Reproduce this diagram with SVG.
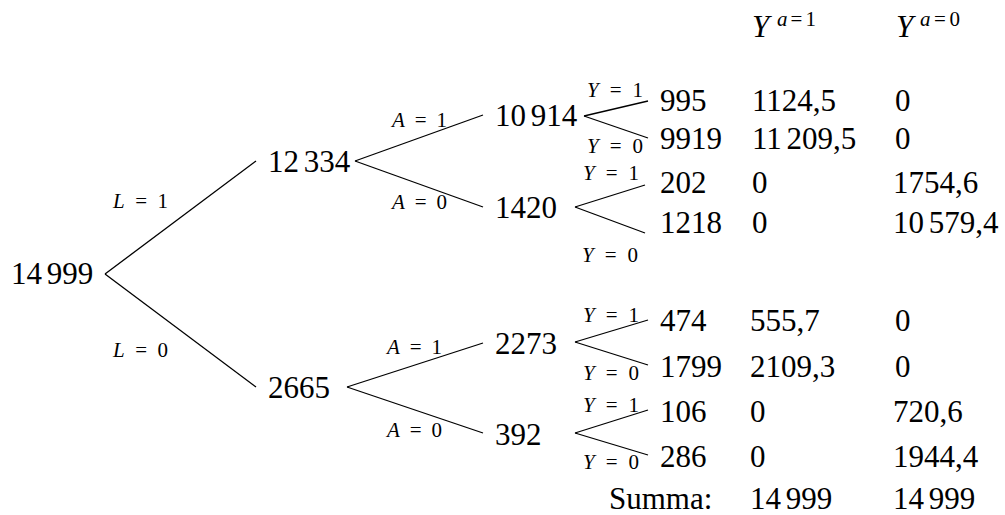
<svg xmlns="http://www.w3.org/2000/svg" width="1005" height="515" viewBox="0 0 1005 515">
<style>
text{fill:#000;font-family:"Liberation Serif","Times New Roman",serif}
.n{font-size:31px;word-spacing:-3px}
.l{font-size:21px}
.s{font-size:21px}
.i{font-style:italic}
.e line{stroke:#000;stroke-width:1.3;fill:none}
</style>
<rect width="1005" height="515" fill="#fff"/>
<g id="connectors" class="e">
<line x1="105" y1="274" x2="256" y2="161"/>
<line x1="105" y1="274" x2="256" y2="387"/>
<line x1="355" y1="161" x2="483" y2="115"/>
<line x1="355" y1="161" x2="483" y2="207"/>
<line x1="347" y1="387" x2="483" y2="343"/>
<line x1="347" y1="387" x2="483" y2="433"/>
<line x1="584" y1="116" x2="648" y2="101"/>
<line x1="584" y1="116" x2="648" y2="138"/>
<line x1="575" y1="207" x2="645" y2="185"/>
<line x1="575" y1="207" x2="645" y2="233"/>
<line x1="575" y1="342" x2="648" y2="320"/>
<line x1="575" y1="342" x2="648" y2="365"/>
<line x1="575" y1="433" x2="648" y2="410"/>
<line x1="575" y1="433" x2="648" y2="455"/>
</g>
<g id="edge-labels">
<text class="l" x="113" y="208" textLength="55"><tspan class="i">L</tspan> = 1</text>
<text class="l" x="113" y="357" textLength="55"><tspan class="i">L</tspan> = 0</text>
<text class="l" x="392" y="127" textLength="55"><tspan class="i">A</tspan> = 1</text>
<text class="l" x="392" y="209" textLength="55"><tspan class="i">A</tspan> = 0</text>
<text class="l" x="387" y="354" textLength="55"><tspan class="i">A</tspan> = 1</text>
<text class="l" x="387" y="437" textLength="55"><tspan class="i">A</tspan> = 0</text>
<text class="l" x="587" y="97" textLength="56"><tspan class="i">Y</tspan> = 1</text>
<text class="l" x="587" y="153" textLength="56"><tspan class="i">Y</tspan> = 0</text>
<text class="l" x="583" y="180" textLength="56"><tspan class="i">Y</tspan> = 1</text>
<text class="l" x="582" y="262" textLength="56"><tspan class="i">Y</tspan> = 0</text>
<text class="l" x="583" y="322" textLength="56"><tspan class="i">Y</tspan> = 1</text>
<text class="l" x="583" y="380" textLength="56"><tspan class="i">Y</tspan> = 0</text>
<text class="l" x="583" y="412" textLength="56"><tspan class="i">Y</tspan> = 1</text>
<text class="l" x="583" y="469" textLength="56"><tspan class="i">Y</tspan> = 0</text>
</g>
<g id="root"><text class="n" x="11" y="284">14 999</text></g>
<g id="n12334"><text class="n" x="268" y="172">12 334</text></g>
<g id="n2665"><text class="n" x="268" y="398">2665</text></g>
<g id="n10914"><text class="n" x="495" y="126">10 914</text></g>
<g id="n1420"><text class="n" x="495" y="218">1420</text></g>
<g id="n2273"><text class="n" x="495" y="354">2273</text></g>
<g id="n392"><text class="n" x="495" y="445">392</text></g>
<g id="leaf995"><text class="n" x="660" y="111">995</text></g>
<g id="leaf9919"><text class="n" x="660" y="149">9919</text></g>
<g id="leaf202"><text class="n" x="660" y="193">202</text></g>
<g id="leaf1218"><text class="n" x="660" y="233">1218</text></g>
<g id="leaf474"><text class="n" x="660" y="331">474</text></g>
<g id="leaf1799"><text class="n" x="660" y="377">1799</text></g>
<g id="leaf106"><text class="n" x="660" y="422">106</text></g>
<g id="leaf286"><text class="n" x="660" y="467">286</text></g>
<g id="table">
<text class="n i" x="752" y="37">Y</text>
<text class="s" x="777" y="26" textLength="39"><tspan class="i">a</tspan>=1</text>
<text class="n i" x="896" y="37">Y</text>
<text class="s" x="920" y="26" textLength="40"><tspan class="i">a</tspan>=0</text>
<text class="n" x="752" y="111">1124,5</text>
<text class="n" x="895" y="111">0</text>
<text class="n" x="752" y="149">11 209,5</text>
<text class="n" x="895" y="149">0</text>
<text class="n" x="752" y="193">0</text>
<text class="n" x="893" y="193">1754,6</text>
<text class="n" x="752" y="233">0</text>
<text class="n" x="893" y="233">10 579,4</text>
<text class="n" x="750" y="331">555,7</text>
<text class="n" x="895" y="331">0</text>
<text class="n" x="750" y="377">2109,3</text>
<text class="n" x="895" y="377">0</text>
<text class="n" x="750" y="422">0</text>
<text class="n" x="893" y="422">720,6</text>
<text class="n" x="750" y="467">0</text>
<text class="n" x="893" y="467">1944,4</text>
<text class="n" x="609" y="509">Summa:</text>
<text class="n" x="750" y="509">14 999</text>
<text class="n" x="893" y="509">14 999</text>
</g>
</svg>
